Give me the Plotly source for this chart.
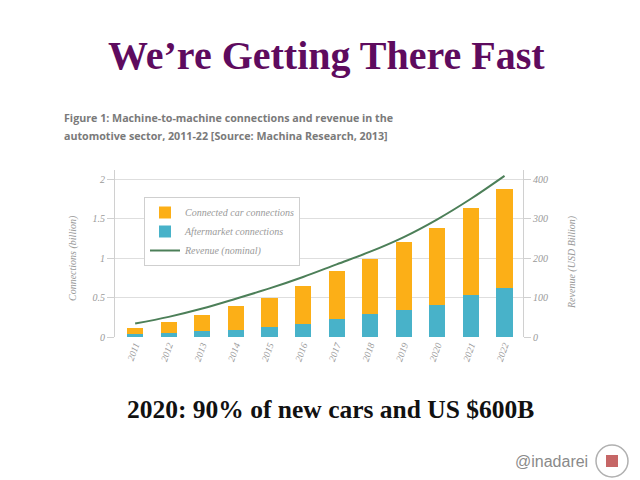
import plotly.graph_objects as go

years = ["2011", "2012", "2013", "2014", "2015", "2016", "2017", "2018", "2019", "2020", "2021", "2022"]
aftermarket = [0.04, 0.05, 0.07, 0.085, 0.127, 0.17, 0.23, 0.29, 0.34, 0.41, 0.53, 0.62]
connected_car = [0.08, 0.14, 0.21, 0.305, 0.363, 0.47, 0.60, 0.70, 0.86, 0.97, 1.10, 1.25]
revenue = [34, 51, 72, 97, 123, 152, 184, 216, 253, 298, 350, 408]

left_ticks = [0, 0.5, 1, 1.5, 2]
left_ticktext = ["0", "0.5", "1", "1.5", "2"]
right_ticks = [0, 100, 200, 300, 400]

ORANGE = "#FCAF17"
BLUE = "#48B2C9"
GREEN = "#4C7F58"
GRAY_TXT = "#9a9a9a"
SERIF = "Liberation Serif, DejaVu Serif, serif"

OFF = 8  # page body margin
# plot area in page pixels
L, R, T, B = 115, 523, 170, 337
W, H = 632, 472
ymax = 2.114


def px(x, y):
    return (x - L) / (R - L), (B - y) / (B - T)


fig = go.Figure()
fig.add_trace(go.Bar(x=years, y=aftermarket, name="Aftermarket connections",
                     marker=dict(color=BLUE, line=dict(width=0)), legendrank=2))
fig.add_trace(go.Bar(x=years, y=connected_car, name="Connected car connections",
                     marker=dict(color=ORANGE, line=dict(width=0)), legendrank=1))
fig.add_trace(go.Scatter(x=years, y=revenue, name="Revenue (nominal)", yaxis="y2",
                         mode="lines", line=dict(color=GREEN, width=2, shape="spline"),
                         legendrank=3, cliponaxis=False))

fig.update_layout(
    width=W, height=H,
    paper_bgcolor="white", plot_bgcolor="white",
    margin=dict(l=L - OFF, r=W - (R - OFF), t=T - OFF, b=H - (B - OFF), pad=0),
    barmode="stack", bargap=0.52,
    showlegend=True,
    legend=dict(x=px(144, 0)[0], y=px(0, 197)[1], xanchor="left", yanchor="top",
                bgcolor="white", bordercolor="#cfcfcf", borderwidth=1,
                traceorder="normal",
                font=dict(family=SERIF, size=10, color=GRAY_TXT, style="italic"),
                itemwidth=30, tracegroupgap=0),
    xaxis=dict(type="category", range=[-0.6, 11.55], showgrid=False, showline=False,
               zeroline=False, tickangle=-70, ticks="",
               tickfont=dict(family=SERIF, size=9.5, color=GRAY_TXT, style="italic")),
    yaxis=dict(range=[0, ymax], tickvals=left_ticks, ticktext=left_ticktext,
               showgrid=True, gridcolor="#dedede", gridwidth=1, zeroline=False,
               showline=True, linecolor="#d0d0d0", linewidth=1,
               ticks="outside", ticklen=7, tickcolor="#d0d0d0",
               tickfont=dict(family=SERIF, size=10, color=GRAY_TXT, style="italic")),
    yaxis2=dict(range=[0, ymax * 200], tickvals=right_ticks, overlaying="y", side="right",
                showgrid=False, zeroline=False, showline=True, linecolor="#d0d0d0",
                linewidth=1, ticks="outside", ticklen=7, tickcolor="#d0d0d0",
                tickfont=dict(family=SERIF, size=10, color=GRAY_TXT, style="italic")),
)

annotations = []


def add_text(text, x, y, size, color, family, bold=False, italic=False,
             xanchor="center", angle=0):
    xp, yp = px(x, y)
    annotations.append(dict(
        text=text, x=xp, y=yp, xref="paper", yref="paper", showarrow=False,
        xanchor=xanchor, yanchor="middle", textangle=angle,
        font=dict(size=size, color=color, family=family,
                  weight="bold" if bold else "normal",
                  style="italic" if italic else "normal")))


add_text("We’re Getting There Fast", 326, 55, 40, "#5E0B5E", "Liberation Serif, serif", bold=True)
add_text("Figure 1: Machine-to-machine connections and revenue in the", 62, 118, 10.7,
         "#7a7a7a", "Open Sans, Noto Sans, sans-serif", bold=True, xanchor="left")
add_text("automotive sector, 2011-22 [Source: Machina Research, 2013]", 62, 136, 10.7,
         "#7a7a7a", "Open Sans, Noto Sans, sans-serif", bold=True, xanchor="left")
add_text("Connections (billion)", 73, 258, 10, GRAY_TXT, SERIF, italic=True, angle=-90)
add_text("Revenue (USD Billion)", 572, 262, 10, GRAY_TXT, SERIF, italic=True, angle=-90)
add_text("2020: 90% of new cars and US $600B", 330, 409, 25.5, "#111111",
         "Liberation Serif, serif", bold=True)
add_text("@inadarei", 551, 461, 16, "#8a8a8a", "Liberation Sans, Arial, sans-serif")

fig.update_layout(annotations=annotations)

# small round logo placeholder
cx, cy = px(612, 461)
rx = 16 / (R - L)
ry = 16 / (B - T)
fig.add_shape(type="circle", xref="paper", yref="paper", x0=cx - rx, x1=cx + rx,
              y0=cy - ry, y1=cy + ry, line=dict(color="#b0b0b0", width=1.5),
              fillcolor="white")
ix = 6 / (R - L)
iy = 6 / (B - T)
fig.add_shape(type="rect", xref="paper", yref="paper", x0=cx - ix, x1=cx + ix,
              y0=cy - iy, y1=cy + iy, line=dict(width=0), fillcolor="#b84040", opacity=0.8)

fig.write_html("out.html")
